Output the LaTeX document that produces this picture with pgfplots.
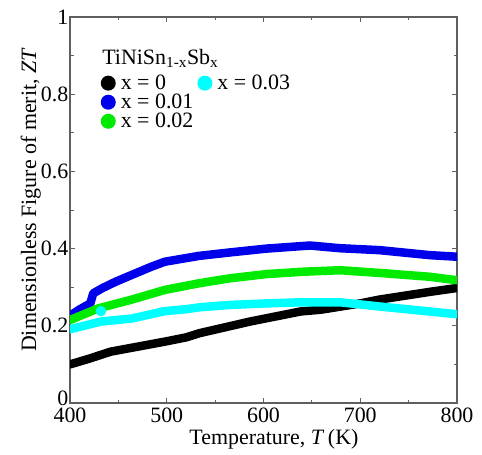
\documentclass[border=0pt]{standalone}
\usepackage{pgfplots}
\pgfplotsset{compat=1.18}
\usepackage{fontspec}
\setmainfont{Liberation Serif}

\definecolor{zblue}{RGB}{0,0,235}
\definecolor{zgreen}{RGB}{0,235,0}
\definecolor{zcyan}{RGB}{0,255,255}
\definecolor{axgray}{RGB}{95,95,95}

\pgfplotsset{band/.style={line width=8.5bp, line cap=round, line join=round, mark=none}}

\begin{document}
\begin{tikzpicture}
\begin{axis}[
  scale only axis, width=387bp, height=386bp,
  xmin=400, xmax=800, ymin=0, ymax=1,
  xtick={400,500,600,700,800}, xticklabels={400,500,600,700,800},
  ytick={0,0.2,0.4,0.6,0.8,1},
  yticklabels={\raisebox{10bp}{0},0.2,0.4,0.6,0.8,1},
  /pgf/number format/assume math mode=true,
  minor x tick num=1, minor y tick num=1,
  xtick pos=both, ytick pos=both, tick align=inside,
  major tick length=5bp, minor tick length=3.5bp,
  axis line style={axgray, line width=1.1bp},
  tick style={axgray, line width=0.9bp},
  font=\rmfamily\fontsize{22}{26}\selectfont,
  tick label style={font=\rmfamily\fontsize{22}{26}\selectfont},
  xticklabel style={anchor=base, yshift=-19bp, inner sep=0pt},
  yticklabel style={anchor=east, inner sep=1.5bp},
  xlabel={Temperature, \textit{T}\,(K)},
  ylabel={Dimensionless Figure of merit, \textit{ZT}},
  xlabel style={at={(rel axis cs:0.527,0)}, anchor=base, yshift=-41bp, inner sep=0pt},
  ylabel style={at={(rel axis cs:-0.075,0.526)}, anchor=south, inner sep=0pt},
  legend style={draw=none, fill=none, at={(rel axis cs:0.079,0.85)}, anchor=north west,
    inner sep=0pt, row sep=3bp, column sep=4bp,
    nodes={inner sep=0pt, font=\rmfamily\fontsize{22}{26}\selectfont}},
  legend columns=2, legend cell align=left,
  legend image code/.code={
    \path[draw=none, fill=none] (0bp,-7.5bp) rectangle (16bp,7.5bp);
    \fill[draw=none] (7.5bp,0bp) circle[radius=7.5bp];},
]
% x = 0
\addplot[black, band, forget plot] coordinates {
(400,0.100) (420,0.115) (442,0.133) (470,0.146) (498,0.159) (520,0.170)
(534,0.181) (560,0.196) (586,0.211) (612,0.224) (638,0.237) (660,0.242)
(700,0.258) (720,0.268) (772,0.288) (800,0.298)};
% x = 0.01
\addplot[zblue, band, forget plot] coordinates {
(400,0.226) (409,0.241) (421,0.258) (424,0.284) (433,0.297) (447,0.314)
(464,0.332) (484,0.353) (498,0.366) (519,0.375) (533,0.381) (565,0.390)
(603,0.400) (648,0.408) (679,0.401) (720,0.396) (772,0.383) (800,0.379)};
% x = 0.02
\addplot[zgreen, band, forget plot] coordinates {
(400,0.215) (429,0.245) (464,0.268) (498,0.293) (533,0.310) (565,0.323)
(603,0.334) (640,0.340) (679,0.344) (720,0.337) (772,0.327) (800,0.318)};
% x = 0.03
\addplot[zcyan, band, forget plot] coordinates {
(400,0.191) (432,0.211) (464,0.219) (498,0.238) (520,0.243) (534,0.248)
(565,0.254) (603,0.258) (640,0.261) (679,0.261) (720,0.250) (772,0.237) (800,0.230)};
\addplot[zcyan, only marks, mark=*, mark size=5bp, mark options={draw=none}, forget plot]
  coordinates {(432,0.238)};

\addlegendimage{black}
\addlegendentry{x = 0}
\addlegendimage{zcyan}
\addlegendentry{x = 0.03}
\addlegendimage{zblue}
\addlegendentry{x = 0.01}
\addlegendimage{legend image code/.code={}}
\addlegendentry{}
\addlegendimage{zgreen}
\addlegendentry{x = 0.02}

\node[anchor=base west, inner sep=0pt, font=\rmfamily\fontsize{22}{26}\selectfont]
  at (rel axis cs:0.083,0.876) {TiNiSn\textsubscript{1-x}Sb\textsubscript{x}};
\end{axis}
\pgfresetboundingbox
\path[use as bounding box] ([shift={(-70bp,-51bp)}]current axis.south west)
  rectangle ([shift={(25bp,17bp)}]current axis.north east);
\end{tikzpicture}
\end{document}
